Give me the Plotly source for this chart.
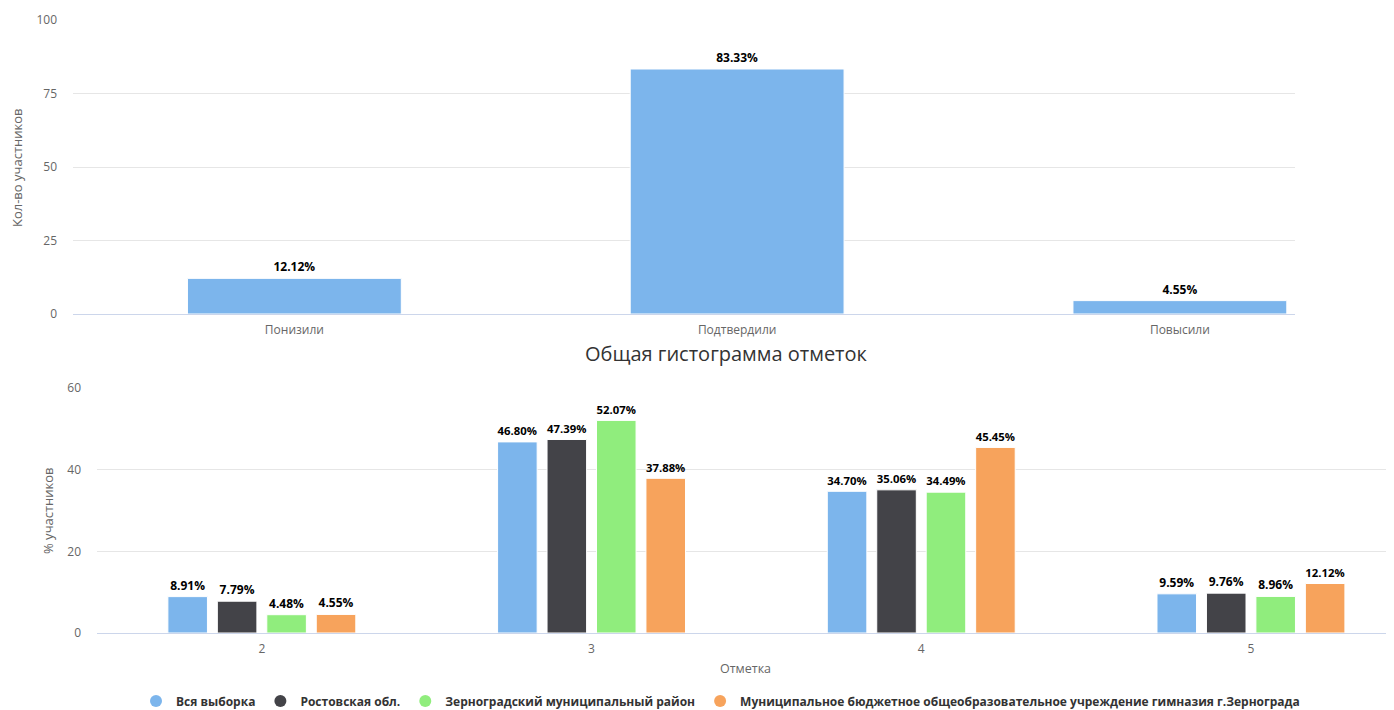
import plotly.graph_objects as go

# the page body keeps its default 8px margin; the figure fills the rest of the window
PAGE_W, PAGE_H = 1394, 710
BODY = 8
W, H = PAGE_W - BODY, PAGE_H - BODY

# top chart: change of marks
change_labels = ["Понизили", "Подтвердили", "Повысили"]
change_values = [12.12, 83.33, 4.55]

# bottom chart: marks histogram
marks = ["2", "3", "4", "5"]
series_names = [
    "Вся выборка",
    "Ростовская обл.",
    "Зерноградский муниципальный район",
    "Муниципальное бюджетное общеобразовательное учреждение гимназия г.Зернограда",
]
all_sample = [8.91, 46.80, 34.70, 9.59]
rostov = [7.79, 47.39, 35.06, 9.76]
zernograd_district = [4.48, 52.07, 34.49, 8.96]
gymnasium = [4.55, 37.88, 45.45, 12.12]
series_values = [all_sample, rostov, zernograd_district, gymnasium]

COLORS = ["#7cb5ec", "#434348", "#90ed7d", "#f7a35c"]
FONT = "Open Sans, DejaVu Sans, sans-serif"
LABEL_FONT = {"family": FONT, "size": 12, "color": "#000000", "weight": "bold"}
AXIS_TEXT = {"family": FONT, "size": 12, "color": "#666666"}


def fx(p):
    """page pixel column -> paper x"""
    return (p - BODY) / W


def fy(p):
    """page pixel row -> paper y"""
    return 1 - (p - BODY) / H


fig = go.Figure()

fig.add_trace(
    go.Bar(
        x=change_labels,
        y=change_values,
        width=0.483,
        marker={"color": COLORS[0], "line": {"color": "#ffffff", "width": 1}},
        text=[f"{v:.2f}%" for v in change_values],
        textposition="outside",
        textfont=LABEL_FONT,
        cliponaxis=False,
        showlegend=False,
        xaxis="x",
        yaxis="y",
    )
)

for name, values, color in zip(series_names, series_values, COLORS):
    fig.add_trace(
        go.Bar(
            x=marks,
            y=values,
            name=name,
            legendgroup=name,
            showlegend=False,
            marker={"color": color, "line": {"color": "#ffffff", "width": 1}},
            text=[f"{v:.2f}%" for v in values],
            textposition="outside",
            textfont=LABEL_FONT,
            cliponaxis=False,
            xaxis="x2",
            yaxis="y2",
        )
    )
    # legend entry with a round symbol, like the original
    fig.add_trace(
        go.Scatter(
            x=[None],
            y=[None],
            mode="markers",
            name=name,
            legendgroup=name,
            marker={"color": color, "size": 12, "symbol": "circle"},
            xaxis="x2",
            yaxis="y2",
        )
    )

axis_common = {
    "showgrid": False,
    "showline": True,
    "linecolor": "#ccd6eb",
    "linewidth": 1,
    "zeroline": False,
    "ticks": "",
    "ticklabelstandoff": 5,
    "tickfont": AXIS_TEXT,
    "automargin": False,
    "fixedrange": True,
}
yaxis_common = {
    "showgrid": True,
    "gridcolor": "#e6e6e6",
    "gridwidth": 1,
    "zeroline": False,
    "showline": False,
    "ticks": "",
    "ticklabelstandoff": 15,
    "tickfont": AXIS_TEXT,
    "automargin": False,
    "fixedrange": True,
}

fig.update_layout(
    template="none",
    width=W,
    height=H,
    margin={"l": 0, "r": 0, "t": 0, "b": 0, "pad": 0, "autoexpand": False},
    paper_bgcolor="#ffffff",
    plot_bgcolor="#ffffff",
    barmode="group",
    bargap=0.4,
    bargroupgap=0.2,
    font={"family": FONT, "color": "#333333"},
    xaxis={
        **axis_common,
        "domain": [fx(73), fx(1295)],
        "type": "category",
        "range": [-0.5, 2.26],
        "anchor": "y",
    },
    yaxis={
        **yaxis_common,
        "domain": [fy(314), fy(20)],
        "range": [0, 100],
        "tickvals": [0, 25, 50, 75, 100],
        "anchor": "x",
    },
    xaxis2={
        **axis_common,
        "domain": [fx(97), 1.0],
        "type": "category",
        "range": [-0.5, (PAGE_W - 97) / 329.7 - 0.5],
        "anchor": "y2",
        "title": {"text": "Отметка", "font": {**AXIS_TEXT, "size": 12.5}, "standoff": 7},
    },
    yaxis2={
        **yaxis_common,
        "domain": [fy(633), fy(388)],
        "range": [0, 60],
        "tickvals": [0, 20, 40, 60],
        "anchor": "x2",
    },
    legend={
        "orientation": "h",
        "x": fx(136),
        "xanchor": "left",
        "y": fy(701),
        "yanchor": "middle",
        "borderwidth": 0,
        "font": {"family": FONT, "size": 12, "color": "#333333", "weight": "bold"},
        "itemclick": False,
        "itemdoubleclick": False,
    },
    annotations=[
        {
            "text": "Общая гистограмма отметок",
            "x": fx(726),
            "y": fy(353),
            "xref": "paper",
            "yref": "paper",
            "showarrow": False,
            "xanchor": "center",
            "yanchor": "middle",
            "font": {"family": FONT, "size": 20, "color": "#333333"},
        },
        {
            "text": "Кол-во участников",
            "x": fx(17),
            "y": fy(168),
            "xref": "paper",
            "yref": "paper",
            "showarrow": False,
            "textangle": -90,
            "xanchor": "center",
            "yanchor": "middle",
            "font": {**AXIS_TEXT, "size": 13},
        },
        {
            "text": "% участников",
            "x": fx(48),
            "y": fy(511),
            "xref": "paper",
            "yref": "paper",
            "showarrow": False,
            "textangle": -90,
            "xanchor": "center",
            "yanchor": "middle",
            "font": {**AXIS_TEXT, "size": 13},
        },
    ],
)

fig.write_html("out.html")
